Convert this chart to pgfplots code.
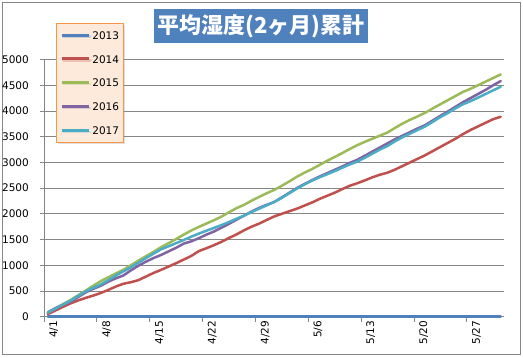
\documentclass[border=0pt]{standalone}
\usepackage{fontspec}
\setmainfont{DejaVu Sans}
\newfontfamily\cjk{Noto Sans CJK JP}
\usepackage{pgfplots}
\pgfplotsset{compat=1.18}
\usepackage{pgfplotstable}
\usetikzlibrary{shadows}
\definecolor{cA}{HTML}{4F81BD}
\definecolor{cB}{HTML}{C0504D}
\definecolor{cC}{HTML}{9BBB59}
\definecolor{cD}{HTML}{8064A2}
\definecolor{cE}{HTML}{4BACC6}
\definecolor{gridgray}{HTML}{868686}
\definecolor{legfill}{HTML}{FDEADA}
\definecolor{legdraw}{HTML}{F79646}
\pgfplotsset{
  xlegline/.style={legend image code/.code={\draw[##1,line width=3pt,line cap=butt] (0pt,0.3pt) -- (27pt,0.3pt);}},
}
\pgfplotstableread{
i a b c d e
0 0 50 77 85 80
1 0 120 160 165 155
2 0 190 243 230 235
3 0 258 323 290 310
4 0 315 415 380 400
5 0 365 505 470 490
6 0 410 600 540 560
7 0 460 690 600 625
8 0 520 765 680 710
9 0 585 840 745 800
10 0 640 910 800 880
11 0 670 1000 900 960
12 0 710 1090 990 1050
13 0 780 1175 1070 1140
14 0 850 1260 1140 1225
15 0 910 1350 1200 1310
16 0 975 1430 1270 1370
17 0 1040 1510 1340 1430
18 0 1110 1595 1420 1490
19 0 1180 1675 1465 1555
20 0 1275 1745 1525 1615
21 0 1330 1810 1595 1670
22 0 1390 1875 1655 1725
23 0 1455 1945 1730 1780
24 0 1530 2030 1805 1840
25 0 1600 2110 1885 1905
26 0 1680 2175 1965 1965
27 0 1750 2255 2045 2035
28 0 1810 2330 2115 2100
29 0 1880 2400 2175 2165
30 0 1950 2465 2230 2230
31 0 2000 2545 2320 2310
32 0 2050 2630 2410 2400
33 0 2100 2720 2500 2490
34 0 2160 2800 2580 2570
35 0 2220 2870 2655 2645
36 0 2290 2950 2725 2710
37 0 2350 3030 2790 2770
38 0 2410 3105 2855 2830
39 0 2480 3180 2920 2895
40 0 2545 3260 2990 2960
41 0 2595 3335 3050 3015
42 0 2650 3400 3130 3090
43 0 2710 3460 3210 3170
44 0 2760 3520 3290 3250
45 0 2800 3580 3370 3320
46 0 2860 3670 3450 3410
47 0 2930 3755 3520 3490
48 0 3000 3830 3590 3560
49 0 3070 3895 3660 3630
50 0 3140 3965 3725 3700
51 0 3220 4050 3815 3790
52 0 3300 4130 3905 3880
53 0 3380 4210 3990 3960
54 0 3460 4290 4080 4050
55 0 3550 4370 4170 4130
56 0 3630 4430 4250 4190
57 0 3700 4500 4330 4260
58 0 3770 4570 4410 4330
59 0 3840 4640 4500 4400
60 0 3887 4710 4581 4471
}\datatable
\begin{document}
\begin{tikzpicture}[x=1pt,y=1pt]
\useasboundingbox (0,0) rectangle (523,357);
\fill[white] (0,0) rectangle (523,357);
\draw[gridgray, line width=1pt] (2.5,3) rectangle (520.5,354.5);
\begin{axis}[
  at={(44pt,40.3pt)}, anchor=south west,
  scale only axis, width=460.5pt, height=257.2pt,
  xmin=-0.5, xmax=60.5, ymin=0, ymax=5000,
  axis x line*=bottom, axis y line*=left,
  axis line style={draw=gridgray, line width=0.75pt},
  ytick={0,500,...,5000},
  yticklabels={0,500,1000,1500,2000,2500,3000,3500,4000,4500,5000},
  ymajorgrids, grid style={gridgray, line width=0.75pt},
  xtick={0,7,...,56},
  xticklabels={4/1,4/8,4/15,4/22,4/29,5/6,5/13,5/20,5/27},
  minor xtick={-0.5,6.5,...,55.5},
  major x tick style={draw=none},
  minor x tick style={draw=gridgray, line width=0.75pt},
  major y tick style={draw=gridgray, line width=0.75pt},
  tick align=outside,
  major tick length=4pt, minor tick length=5pt,
  tick label style={font=\fontsize{10.5}{12}\selectfont},
  yticklabel style={anchor=east, inner sep=0pt, xshift=-11pt},
  xticklabel style={rotate=90, anchor=east, inner sep=0pt, yshift=-6pt},
  clip=false,
  xlegline,
  legend cell align=left,
  legend style={at={(0.026,1.142)}, anchor=north west,
    fill=legfill, draw=legdraw, line width=0.75pt,
    inner xsep=4pt, inner ysep=8pt,
    /tikz/row sep=15.8pt, /tikz/column sep=2pt,
    nodes={inner sep=0pt, text height=8pt, text depth=0pt, font=\fontsize{10.5}{12}\selectfont},
    drop shadow={shadow xshift=1.5pt, shadow yshift=-1.5pt, opacity=0.25}},
  every axis plot/.append style={line width=2.5pt, line join=round, line cap=round},
]
\addplot[cA] table[x=i,y=a]{\datatable};
\addplot[cB] table[x=i,y=b]{\datatable};
\addplot[cC] table[x=i,y=c]{\datatable};
\addplot[cD] table[x=i,y=d]{\datatable};
\addplot[cE] table[x=i,y=e]{\datatable};
\legend{2013,2014,2015,2016,2017}
\end{axis}
\node[fill=cA, text=white, minimum width=214pt, minimum height=34pt, inner sep=0pt,
  font=\cjk\bfseries\fontsize{22}{22}\selectfont] at (261,330.8) {平均湿度(2ヶ月)累計};
\end{tikzpicture}
\end{document}
